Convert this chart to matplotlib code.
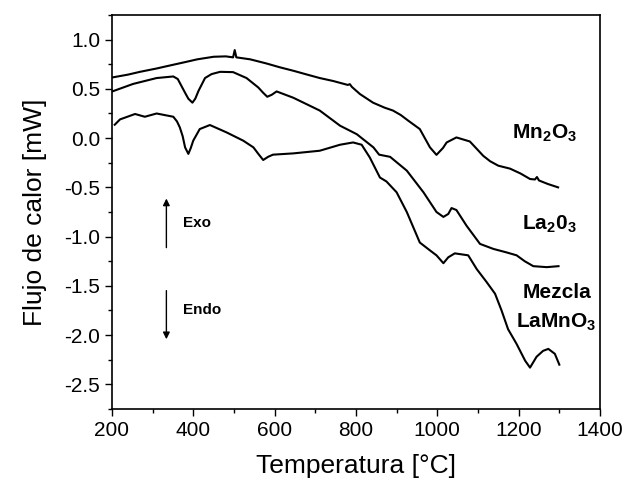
import matplotlib
matplotlib.use('Agg')
import matplotlib.pyplot as plt
from matplotlib.ticker import MultipleLocator

plt.rcParams['font.family'] = ['Liberation Sans', 'DejaVu Sans']
plt.rcParams['mathtext.fontset'] = 'custom'
plt.rcParams['mathtext.rm'] = 'Liberation Sans:bold'
plt.rcParams['mathtext.bf'] = 'Liberation Sans:bold'

# DTA curves (temperature in C, heat flow in mW)
mn_t = [201, 240, 269, 310, 340, 376, 410, 450, 480, 498, 502, 506, 540, 580, 612, 646, 680,
        711, 744, 780, 785, 790, 810, 842, 870, 891, 910, 929, 957, 982, 998, 1014, 1023,
        1047, 1080, 1095, 1113, 1130, 1150, 1179, 1205, 1228, 1240, 1245, 1250, 1272, 1297]
mn_y = [0.616, 0.645, 0.673, 0.707, 0.735, 0.768, 0.80, 0.826, 0.83, 0.82, 0.894, 0.82, 0.80,
        0.758, 0.72, 0.684, 0.645, 0.61, 0.58, 0.54, 0.548, 0.52, 0.447, 0.36, 0.31, 0.28,
        0.235, 0.176, 0.092, -0.094, -0.17, -0.10, -0.044, 0.007, -0.034, -0.10, -0.18,
        -0.235, -0.28, -0.31, -0.36, -0.415, -0.42, -0.395, -0.43, -0.466, -0.50]

la_t = [201, 252, 310, 351, 362, 371, 380, 388, 398, 405, 413, 429, 445, 466, 498, 531, 560,
        572, 582, 593, 605, 646, 711, 761, 802, 843, 857, 884, 925, 966, 998, 1015, 1027,
        1035, 1047, 1072, 1105, 1138, 1170, 1195, 1215, 1236, 1269, 1298]
la_y = [0.474, 0.55, 0.61, 0.626, 0.60, 0.53, 0.46, 0.40, 0.36, 0.40, 0.48, 0.61, 0.65, 0.673,
        0.67, 0.61, 0.514, 0.46, 0.42, 0.44, 0.474, 0.41, 0.28, 0.126, 0.04, -0.094, -0.168,
        -0.19, -0.33, -0.55, -0.75, -0.80, -0.77, -0.71, -0.73, -0.89, -1.074, -1.125,
        -1.16, -1.19, -1.25, -1.30, -1.31, -1.30]

mez_t = [207, 220, 257, 281, 310, 351, 360, 367, 374, 380, 388, 394, 400, 416, 441, 482, 523,
         548, 560, 572, 584, 596, 646, 711, 761, 793, 814, 834, 859, 875, 900, 925, 957,
         982, 998, 1015, 1027, 1043, 1076, 1097, 1121, 1142, 1158, 1174, 1195, 1216, 1228,
         1244, 1260, 1273, 1289, 1300]
mez_y = [0.136, 0.19, 0.245, 0.217, 0.25, 0.217, 0.17, 0.109, 0.02, -0.094, -0.16, -0.10,
         -0.026, 0.092, 0.133, 0.058, -0.026, -0.094, -0.16, -0.222, -0.19, -0.168, -0.155,
         -0.128, -0.067, -0.044, -0.067, -0.196, -0.40, -0.44, -0.55, -0.75, -1.06, -1.14,
         -1.19, -1.27, -1.21, -1.17, -1.19, -1.33, -1.46, -1.58, -1.75, -1.94, -2.09, -2.26,
         -2.33, -2.22, -2.16, -2.14, -2.19, -2.30]

fig = plt.figure(figsize=(6.25, 4.84), dpi=100)
ax = fig.add_axes([0.179, 0.155, 0.781, 0.814])

for t, y in [(mn_t, mn_y), (la_t, la_y), (mez_t, mez_y)]:
    ax.plot(t, y, color='black', lw=1.5)

ax.set_xlim(200, 1400)
ax.set_ylim(-2.75, 1.25)
ax.xaxis.set_major_locator(MultipleLocator(200))
ax.xaxis.set_minor_locator(MultipleLocator(100))
ax.yaxis.set_major_locator(MultipleLocator(0.5))
ax.yaxis.set_minor_locator(MultipleLocator(0.25))
ax.yaxis.set_major_formatter(plt.FuncFormatter(lambda v, p: f'{v:.1f}'))
ax.tick_params(which='both', direction='out', top=False, right=False, labelsize=15)
ax.tick_params(which='major', length=5, width=1)
ax.tick_params(which='minor', length=3, width=1)
for s in ax.spines.values():
    s.set_linewidth(1.2)

ax.set_xlabel('Temperatura [°C]', fontsize=19, labelpad=10)
ax.set_ylabel('Flujo de calor [mW]', fontsize=19, labelpad=12)

# series labels
ax.text(1343, 0.045, r'Mn$_2$O$_3$', ha='right', va='center', fontsize=15, fontweight='bold')
ax.text(1343, -0.87, r'La$_2$0$_3$', ha='right', va='center', fontsize=15, fontweight='bold')
ax.text(1294, -1.57, 'Mezcla', ha='center', va='center', fontsize=15, fontweight='bold')
ax.text(1292, -1.87, r'LaMnO$_3$', ha='center', va='center', fontsize=15, fontweight='bold')

# exo / endo arrows
ax.annotate('', xy=(334, -0.585), xytext=(334, -1.14),
            arrowprops=dict(arrowstyle='-|>', color='black', lw=1, mutation_scale=10))
ax.annotate('', xy=(334, -2.07), xytext=(334, -1.52),
            arrowprops=dict(arrowstyle='-|>', color='black', lw=1, mutation_scale=10))
ax.text(375, -0.865, 'Exo', ha='left', va='center', fontsize=11, fontweight='bold')
ax.text(375, -1.74, 'Endo', ha='left', va='center', fontsize=11, fontweight='bold')

fig.savefig('out.png', dpi=100)
